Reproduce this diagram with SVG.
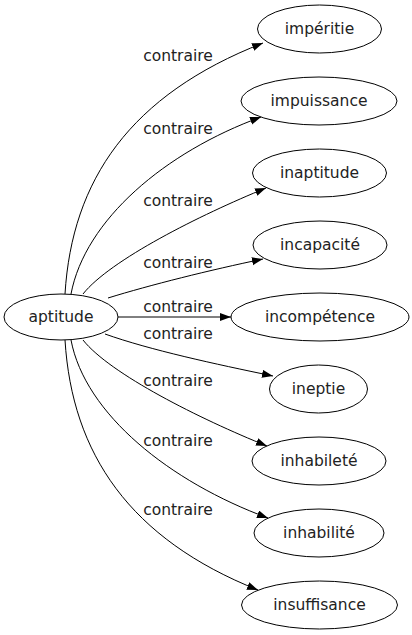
<svg xmlns="http://www.w3.org/2000/svg" width="412" height="635" viewBox="0 0 412 635">
<defs>
<marker id="ah" markerUnits="userSpaceOnUse" markerWidth="12" markerHeight="9" refX="11" refY="4" orient="auto">
<path d="M0,0 L11,4 L0,8 z" fill="#000"/>
</marker>
<style>
.n ellipse{fill:#fff;stroke:#000;stroke-width:1}
.n text{font-family:"DejaVu Sans",sans-serif;font-size:15.5px;fill:#222;text-anchor:middle}
.e path{fill:none;stroke:#000;stroke-width:1;marker-end:url(#ah)}
.l text{font-family:"DejaVu Sans",sans-serif;font-size:15.5px;fill:#222;text-anchor:middle}
</style>
</defs>
<rect width="412" height="635" fill="#fff"/>
<g id="edges" class="e">
<path d="M65,294 C72,180 130,95 263,43"/>
<path d="M71,294 C85,220 165,152 261,117"/>
<path d="M83,294 C110,260 200,215 266,188"/>
<path d="M108,298 C150,285 210,270 263,259"/>
<path d="M118,317 L231,317"/>
<path d="M105,334 C150,350 215,364 273,376"/>
<path d="M83,340 C110,374 200,419 267,446"/>
<path d="M71,340 C85,414 170,482 268,518"/>
<path d="M65,340 C72,454 130,539 258,590"/>
</g>
<g id="labels" class="l">
<text x="178" y="61">contraire</text>
<text x="178" y="134">contraire</text>
<text x="178" y="206">contraire</text>
<text x="178" y="268">contraire</text>
<text x="178" y="312">contraire</text>
<text x="178" y="339">contraire</text>
<text x="178" y="386">contraire</text>
<text x="178" y="446">contraire</text>
<text x="178" y="515">contraire</text>
</g>
<g id="aptitude" class="n"><ellipse cx="61" cy="317" rx="57" ry="23"/><text x="61" y="322">aptitude</text></g>
<g id="imperitie" class="n"><ellipse cx="319.5" cy="29" rx="62" ry="24"/><text x="319.5" y="34">impéritie</text></g>
<g id="impuissance" class="n"><ellipse cx="319" cy="101" rx="78" ry="24"/><text x="319" y="106">impuissance</text></g>
<g id="inaptitude" class="n"><ellipse cx="319.5" cy="173" rx="67" ry="24"/><text x="319.5" y="178">inaptitude</text></g>
<g id="incapacite" class="n"><ellipse cx="320" cy="245" rx="67" ry="24"/><text x="320" y="250">incapacité</text></g>
<g id="incompetence" class="n"><ellipse cx="320" cy="317" rx="89" ry="24"/><text x="320" y="322">incompétence</text></g>
<g id="ineptie" class="n"><ellipse cx="318.5" cy="389" rx="49" ry="24"/><text x="318.5" y="394">ineptie</text></g>
<g id="inhabilete" class="n"><ellipse cx="319" cy="461" rx="67" ry="24"/><text x="319" y="466">inhabileté</text></g>
<g id="inhabilite" class="n"><ellipse cx="319" cy="533" rx="65" ry="24"/><text x="319" y="538">inhabilité</text></g>
<g id="insuffisance" class="n"><ellipse cx="319.5" cy="605" rx="78" ry="24"/><text x="319.5" y="610">insuffisance</text></g>
</svg>
